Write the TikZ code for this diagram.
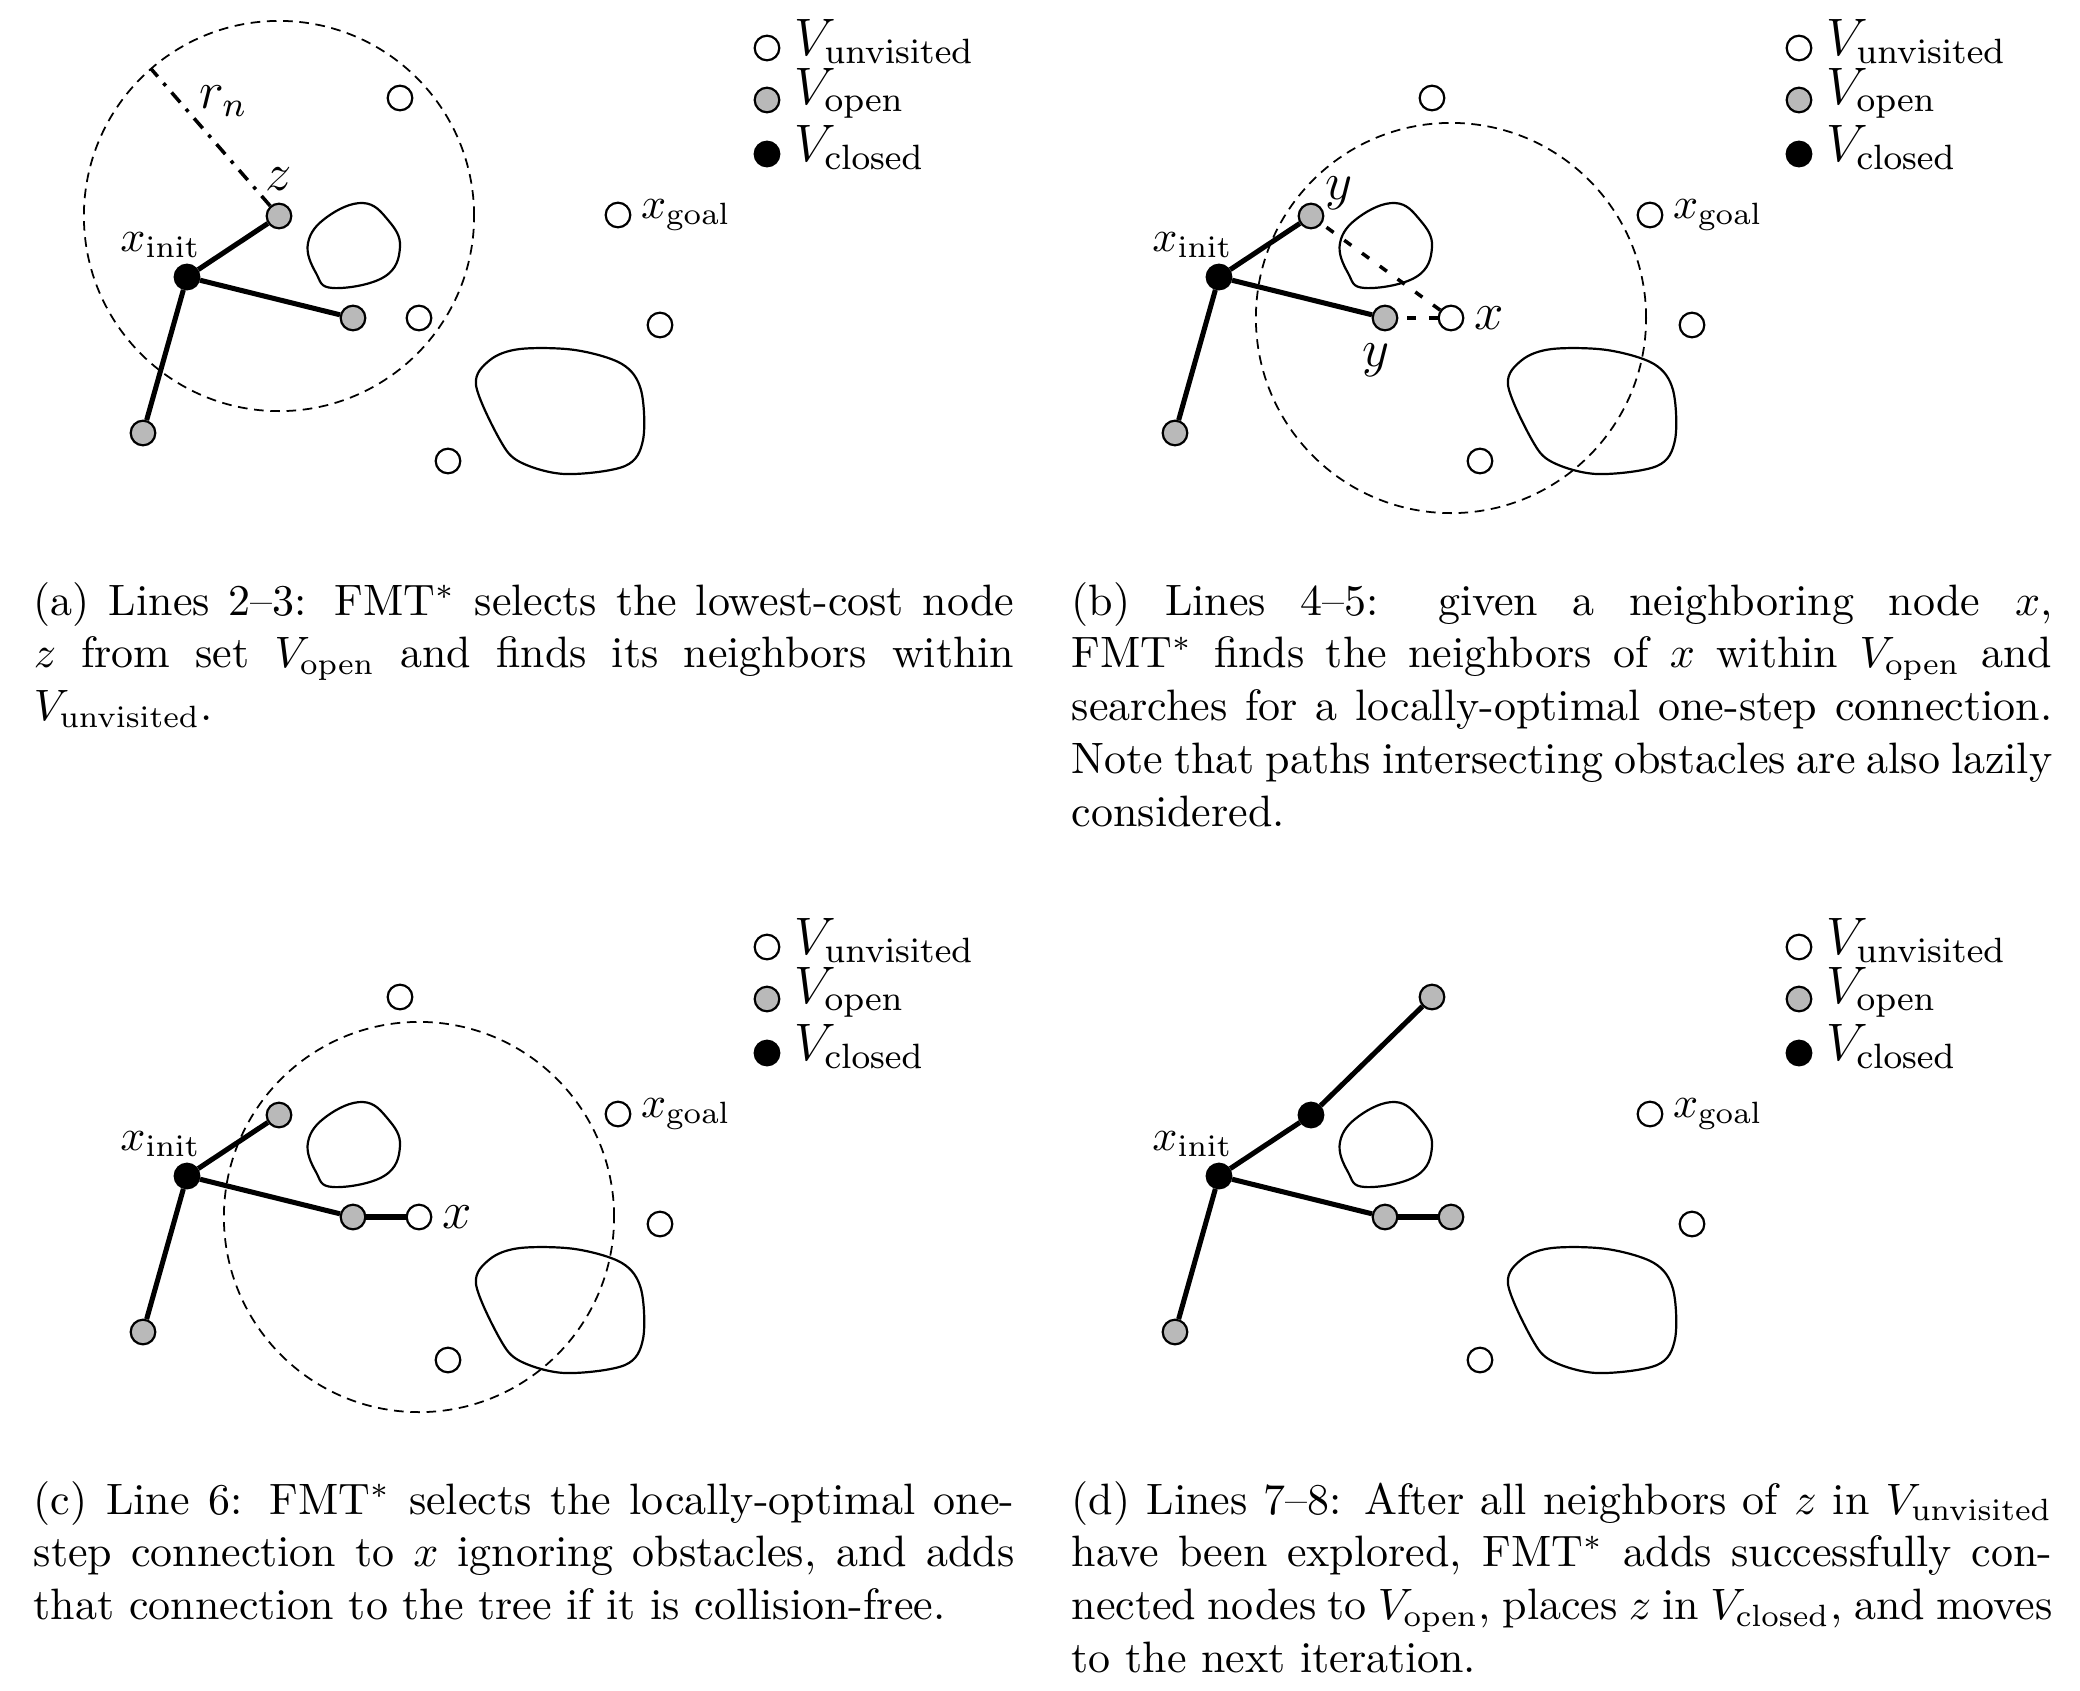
\documentclass[tikz,border=0pt]{standalone}
\usepackage{amsmath}
\usetikzlibrary{calc}
\usetikzlibrary{positioning}
\usetikzlibrary{backgrounds}
\colorlet{openfill}{gray!55}
\tikzset{
  vertex/.style={circle,draw,line width=0.5pt,minimum size=5.6pt,inner sep=0pt},
  vunvisited/.style={vertex,fill=white},
  vopen/.style={vertex,fill=openfill},
  vclosed/.style={vertex,fill=black},
  tree/.style={line width=1.15pt},
  lazy/.style={thick,dash pattern=on 2pt off 3pt},
  ball/.style={line width=0.4pt,dash pattern=on 2.2pt off 1.5pt},
  rline/.style={thick,dashdotted},
  obstacle/.style={line width=0.5pt},
  lbl/.style={inner sep=1pt},
  caption/.style={inner sep=0pt,font=\normalsize},
}

\begin{document}
\begin{tikzpicture}[x=0.008cm,y=-0.008cm]
  \useasboundingbox (0,0) rectangle (2080,1690);

  % the four stages share the map, the legend and most vertices
  \foreach \p/\dx/\dy/\zf/\tf/\xf in {a/0/0/openfill/white/white,b/1032/0/openfill/white/white,
      c/0/899/openfill/white/white,d/1032/899/black/openfill/openfill} {
    \begin{scope}[shift={(\dx,\dy)}]
      \draw[obstacle] plot[smooth cycle,tension=0.7] coordinates
        {(363,203) (388,220) (400,247) (384,277) (333,288) (316,273) (308,243) (327,217)};
      \draw[obstacle] plot[smooth cycle,tension=0.55] coordinates
        {(476,385) (490,360) (520,349) (575,350) (622,364) (641,390) (643,440) (625,466)
         (565,474) (520,462) (500,440)};

      \node[vunvisited] (\p-lu) at (767,48) {};
      \node[vopen] (\p-lo) at (767,100) {};
      \node[vclosed] (\p-lc) at (767,154) {};
      \node[lbl,right=2pt of \p-lu,yshift=1.5pt] {\large $V_{\mathrm{unvisited}}$};
      \node[lbl,right=2pt of \p-lo,yshift=1.5pt] {\large $V_{\mathrm{open}}$};
      \node[lbl,right=2pt of \p-lc,yshift=1.5pt] {\large $V_{\mathrm{closed}}$};

      \node[vclosed] (\p-init) at (187,277) {};
      \node[vertex,fill=\zf] (\p-z) at (279,216) {};
      \node[vopen] (\p-m) at (353,318) {};
      \node[vopen] (\p-l) at (143,433) {};
      \node[vertex,fill=\tf] (\p-t) at (400,98) {};
      \node[vertex,fill=\xf] (\p-x) at (419,318) {};
      \node[vunvisited] (\p-goal) at (618,215) {};
      \node[vunvisited] (\p-f) at (660,325) {};
      \node[vunvisited] (\p-b) at (448,461) {};

      \node[lbl,above left=1pt and -6.5pt of \p-init] {$x_{\mathrm{init}}$};
      \node[lbl,right=1pt of \p-goal] {$x_{\mathrm{goal}}$};

      \draw[tree] (\p-init) -- (\p-z);
      \draw[tree] (\p-init) -- (\p-m);
      \draw[tree] (\p-init) -- (\p-l);
    \end{scope}
  }

  % (a) ball of radius r_n round z
  \scoped[on background layer] \draw[ball] (a-z) circle[radius=1.56cm];
  \coordinate (a-rim) at ($(a-z)+(131:1.56cm)$);
  \draw[rline] (a-z) -- (a-rim) node[lbl,pos=0.72,above right=0pt,xshift=2pt,yshift=-3.5pt] {\large $r_n$};
  \node[lbl,above=1.5pt of a-z] {\large $z$};

  % (b) neighbors of x in V_open
  \scoped[on background layer] \draw[ball] (b-x) circle[radius=1.56cm];
  \draw[lazy] (b-x) -- (b-z);
  \draw[lazy] (b-x) -- (b-m);
  \node[lbl,above right=-2pt and 0pt of b-z] {\large $y$};
  \node[lbl,below=1.5pt of b-m,xshift=-2pt] {\large $y$};
  \node[lbl,right=1pt of b-x] {\large $x$};

  % (c) chosen connection
  \scoped[on background layer] \draw[ball] (c-x) circle[radius=1.56cm];
  \draw[tree] (c-m) -- (c-x);
  \node[lbl,right=1pt of c-x] {\large $x$};

  % (d) tree after the iteration
  \draw[tree] (d-m) -- (d-x);
  \draw[tree] (d-z) -- (d-t);

  % captions
  \node[caption,anchor=base west] (cap-a) at (33,615) {\parbox[t]{7.84cm}{(a) Lines 2--3: FMT$^*$ selects the lowest-cost node\linebreak
    $z$ from set $V_{\mathrm{open}}$ and finds its neighbors within\linebreak
    $V_{\mathrm{unvisited}}$.}};
  \node[caption,anchor=base west] (cap-b) at (1071,615) {\parbox[t]{7.84cm}{(b) Lines 4--5: given a neighboring node $x$,\linebreak
    FMT$^*$ finds the neighbors of $x$ within $V_{\mathrm{open}}$ and\linebreak
    searches for a locally-optimal one-step connection.\linebreak
    Note that paths intersecting obstacles are also lazily\linebreak
    considered.}};
  \node[caption,anchor=base west] (cap-c) at (33,1514) {\parbox[t]{7.84cm}{(c) Line 6: FMT$^*$ selects the locally-optimal one-\linebreak
    step connection to $x$ ignoring obstacles, and adds\linebreak
    that connection to the tree if it is collision-free.}};
  \node[caption,anchor=base west] (cap-d) at (1071,1514) {\parbox[t]{7.84cm}{(d) Lines 7--8: After all neighbors of $z$ in $V_{\mathrm{unvisited}}$\linebreak
    have been explored, FMT$^*$ adds successfully con-\linebreak
    nected nodes to $V_{\mathrm{open}}$, places $z$ in $V_{\mathrm{closed}}$, and moves\linebreak
    to the next iteration.}};
\end{tikzpicture}
\end{document}
